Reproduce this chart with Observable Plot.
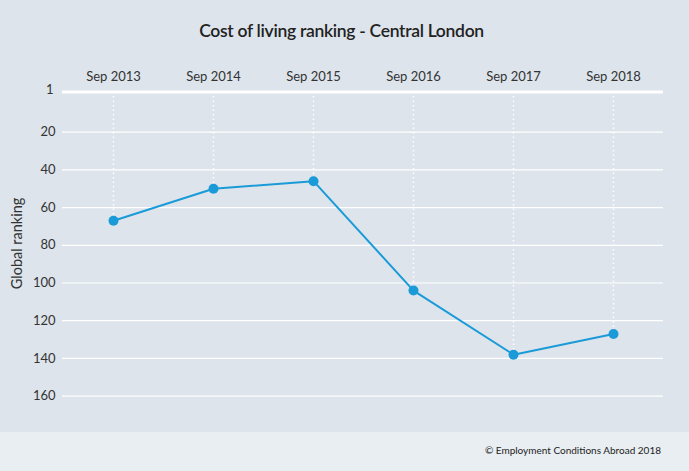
<!DOCTYPE html>
<html><head><meta charset="utf-8">
<script src="https://cdn.jsdelivr.net/npm/d3@7"></script>
<script src="https://cdn.jsdelivr.net/npm/@observablehq/plot@0.6"></script>
<style>
html,body{margin:0;padding:0;background:#dde4eb;width:689px;height:471px;overflow:hidden;font-family:Lato,"Open Sans",sans-serif;}
#title{height:50px;box-sizing:border-box;padding-top:21px;text-align:center;font-size:17.5px;line-height:20px;color:#222;font-weight:600;letter-spacing:-0.3px;padding-right:6px;}
#chart{height:382px;}
#footer{height:39px;background:#e9eef2;box-sizing:border-box;padding:12px 28px 0 0;text-align:right;font-size:10px;color:#222;}
</style></head>
<body>
<div id="title">Cost of living ranking - Central London</div>
<div id="chart"></div>
<div id="footer">© Employment Conditions Abroad 2018</div>
<script>
const periods = ["Sep 2013","Sep 2014","Sep 2015","Sep 2016","Sep 2017","Sep 2018"];
const rankings = [67, 50, 46, 104, 138, 127];
const yTicks = [20, 40, 60, 80, 100, 120, 140, 160];
const topLabel = "1";
const yDomain = [-1.3, 170];

const data = periods.map((p, i) => ({period: p, rank: rankings[i]}));
const blue = "#1a9bd8";

const chart = Plot.plot({
  width: 689,
  height: 382,
  marginTop: 41.5,
  marginBottom: 17.5,
  marginLeft: 62,
  marginRight: 26,
  style: {background: "transparent", fontFamily: "Lato, 'Open Sans', sans-serif", fontSize: "13px", color: "#333"},
  x: {type: "point", domain: periods, padding: 0.5, axis: null},
  y: {domain: yDomain, reverse: true, axis: null},
  marks: [
    Plot.ruleY(yTicks, {stroke: "white", strokeWidth: 1.2}),
    Plot.ruleY([yDomain[0]], {stroke: "white", strokeWidth: 3}),
    Plot.ruleX(data, {x: "period", y1: yDomain[0], y2: "rank", stroke: "white", strokeWidth: 1.5, strokeDasharray: "1.5,3"}),
    Plot.axisX({anchor: "top", tickSize: 0, tickPadding: 11, fontSize: 13, label: null, color: "#333"}),
    Plot.axisY({ticks: yTicks, tickSize: 0, tickPadding: 7, fontSize: 13, label: null}),
    Plot.text([topLabel], {x: null, frameAnchor: "top-left", dx: -9, dy: -7, text: d => d, textAnchor: "end", fontSize: 13, fill: "#333"}),
    Plot.text(["Global ranking"], {frameAnchor: "left", textAnchor: "middle", dx: -45, dy: -10, rotate: -90, text: d => d, fontSize: 14.5, fill: "#333"}),
    Plot.line(data, {x: "period", y: "rank", stroke: blue, strokeWidth: 2}),
    Plot.dot(data, {x: "period", y: "rank", r: 5, fill: blue})
  ]
});
document.getElementById("chart").appendChild(chart);
</script>
</body></html>
